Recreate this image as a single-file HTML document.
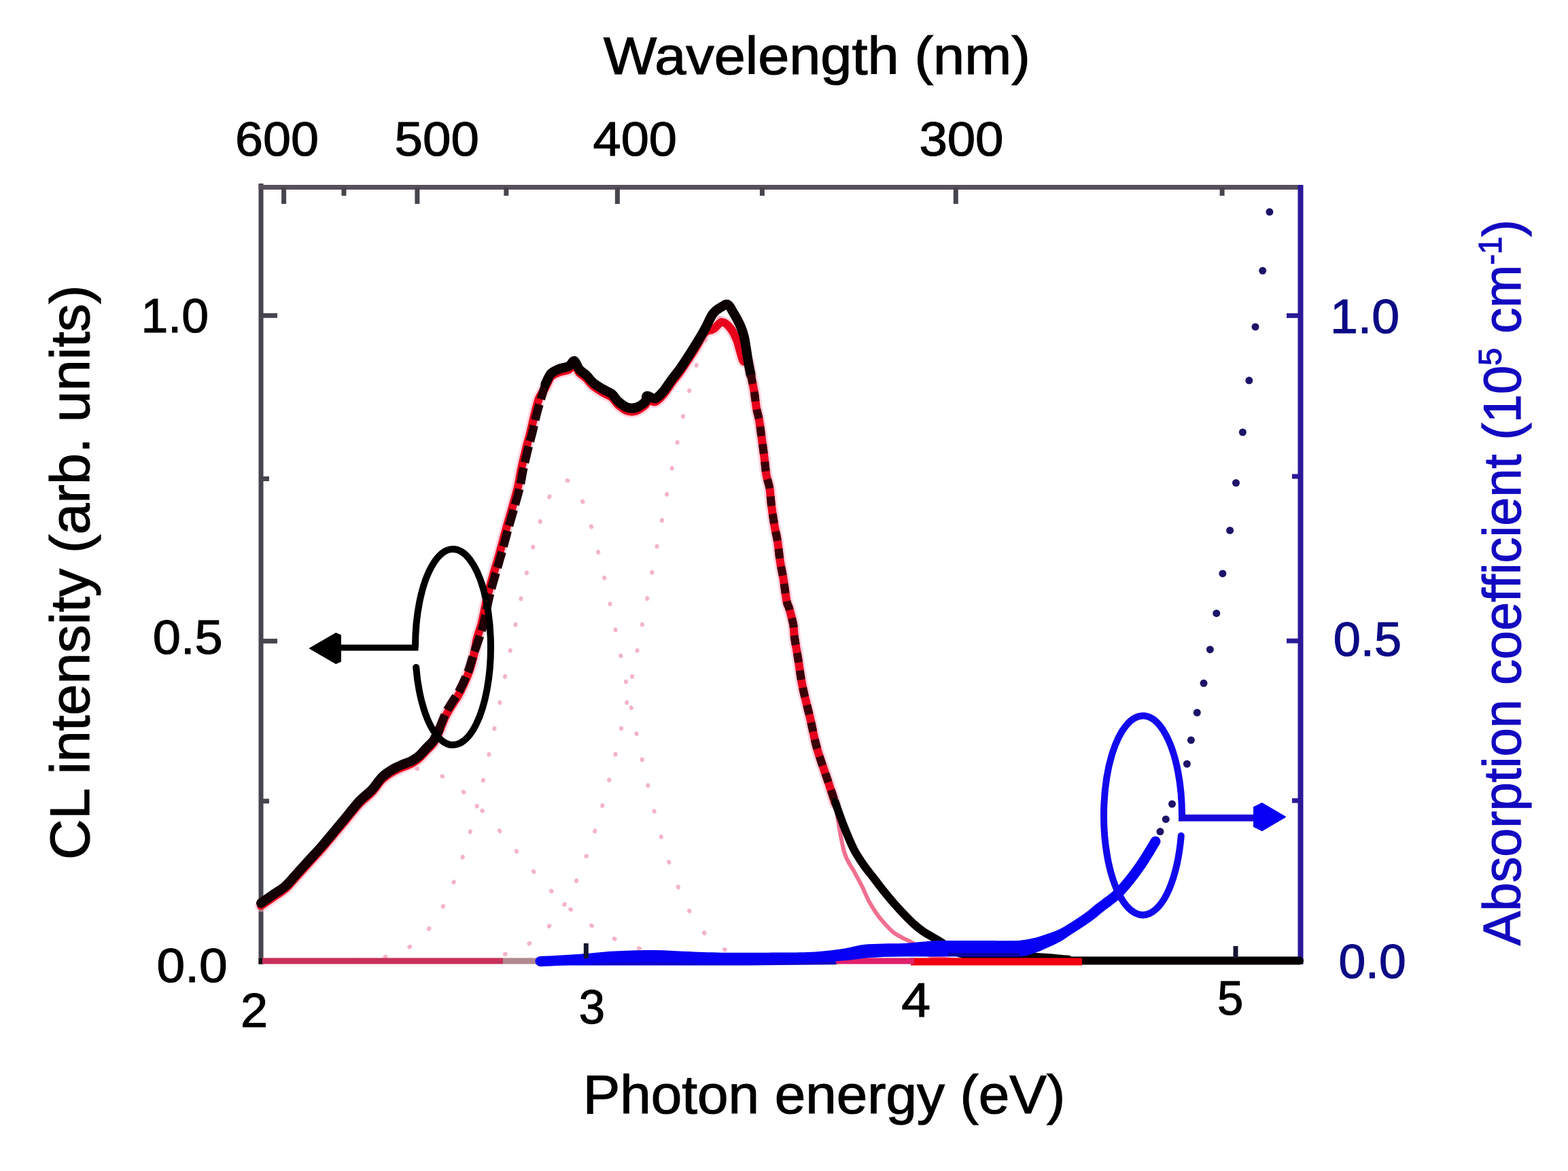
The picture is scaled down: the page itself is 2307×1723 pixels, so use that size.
<!DOCTYPE html>
<html><head><meta charset="utf-8"><title>CL intensity and absorption coefficient vs photon energy</title>
<style>
html,body{margin:0;padding:0;background:#fff;}
body{width:2307px;height:1723px;overflow:hidden;}
svg{display:block;}
</style></head>
<body>
<svg width="2307" height="1723" viewBox="0 0 2307 1723">
<rect width="2307" height="1723" fill="#fff"/>
<path d="M575.6,1139.2 L580.4,1137.0 L585.2,1135.2 L590.0,1133.7 L594.7,1132.5 L599.5,1131.7 L604.3,1131.1 L609.1,1130.9 L613.8,1131.0 L618.6,1131.4 L623.4,1132.2 L628.2,1133.2 L633.0,1134.6 L637.7,1136.3 L642.5,1138.3 L647.3,1140.6 L652.1,1143.1 L656.8,1146.0 L661.6,1149.1 L666.4,1152.5 L671.2,1156.2 L676.0,1160.1 L680.7,1164.2 L685.5,1168.5 L690.3,1173.0 L695.1,1177.7 L699.8,1182.6 L704.6,1187.7 L709.4,1192.8 L714.2,1198.1 L719.0,1203.6 L723.7,1209.1 L728.5,1214.7 L733.3,1220.4 L738.1,1226.1 L742.8,1231.9 L747.6,1237.7 L752.4,1243.5 L757.2,1249.2 L762.0,1255.0 L766.7,1260.8 L771.5,1266.5 L776.3,1272.2 L781.1,1277.8 L785.9,1283.3 L790.6,1288.7 L795.4,1294.1 L800.2,1299.4 L805.0,1304.5 L809.7,1309.6 L814.5,1314.5 L819.3,1319.3 L824.1,1323.9 L828.9,1328.5 L833.6,1332.9 L838.4,1337.1 L843.2,1341.3 L848.0,1345.2 L852.7,1349.1 L857.5,1352.8 L862.3,1356.3 L867.1,1359.7 L871.9,1363.0 L876.6,1366.1 L881.4,1369.1 L886.2,1371.9 L891.0,1374.6 L895.7,1377.2 L900.5,1379.7 L905.3,1382.0 L910.1,1384.2 L914.9,1386.3 L919.6,1388.2 L924.4,1390.1 L929.2,1391.8 L934.0,1393.5 L938.7,1395.0 L943.5,1396.4 L948.3,1397.8 L953.1,1399.1 L957.9,1400.2 L962.6,1401.3 L967.4,1402.4 L972.2,1403.3 L977.0,1404.2 L981.7,1405.1 L986.5,1405.8 L991.3,1406.5 L996.1,1407.2 L1000.9,1407.8 L1005.6,1408.3 L1010.4,1408.9 L1015.2,1409.3 L1020.0,1409.8 L1024.8,1410.2 L1029.5,1410.5 L1034.3,1410.9 L1039.1,1411.2 L1043.9,1411.4 L1048.6,1411.7 L1053.4,1411.9 L1058.2,1412.1 L1063.0,1412.3 L1067.8,1412.5 L1072.5,1412.7 L1077.3,1412.8 L1082.1,1412.9 L1086.9,1413.0 L1091.6,1413.1 L1096.4,1413.2 L1101.2,1413.3 L1106.0,1413.4 L1110.8,1413.5 L1115.5,1413.5 L1120.3,1413.6 L1125.1,1413.6 L1129.9,1413.7 L1134.6,1413.7 L1139.4,1413.7 L1144.2,1413.8 L1149.0,1413.8 L1153.8,1413.8 L1158.5,1413.8 L1163.3,1413.9 L1168.1,1413.9 L1172.9,1413.9 L1177.6,1413.9 L1182.4,1413.9 L1187.2,1413.9 L1192.0,1413.9 L1196.8,1413.9 L1201.5,1414.0 L1206.3,1414.0 L1211.1,1414.0 L1215.9,1414.0 L1220.6,1414.0 L1225.4,1414.0 L1230.2,1414.0 L1235.0,1414.0 L1239.8,1414.0 L1244.5,1414.0 L1249.3,1414.0 L1254.1,1414.0 L1258.9,1414.0 L1263.7,1414.0 L1268.4,1414.0 L1273.2,1414.0 L1278.0,1414.0 L1282.8,1414.0 L1287.5,1414.0 L1292.3,1414.0 L1297.1,1414.0 L1301.9,1414.0 L1306.7,1414.0 L1311.4,1414.0 L1316.2,1414.0 L1321.0,1414.0 L1325.8,1414.0 L1330.5,1414.0 L1335.3,1414.0 L1340.1,1414.0" fill="none" stroke="#f4b4c8" stroke-width="6" stroke-dasharray="1 38" stroke-linecap="round"/>
<path d="M527.8,1412.6 L532.6,1412.3 L537.4,1411.9 L542.2,1411.5 L547.0,1411.0 L551.7,1410.4 L556.5,1409.7 L561.3,1408.9 L566.1,1407.9 L570.8,1406.8 L575.6,1405.5 L580.4,1403.9 L585.2,1402.2 L590.0,1400.2 L594.7,1397.9 L599.5,1395.2 L604.3,1392.2 L609.1,1388.8 L613.8,1385.0 L618.6,1380.7 L623.4,1375.8 L628.2,1370.4 L633.0,1364.4 L637.7,1357.7 L642.5,1350.3 L647.3,1342.1 L652.1,1333.2 L656.8,1323.4 L661.6,1312.8 L666.4,1301.2 L671.2,1288.8 L676.0,1275.3 L680.7,1260.9 L685.5,1245.6 L690.3,1229.2 L695.1,1211.9 L699.8,1193.7 L704.6,1174.5 L709.4,1154.5 L714.2,1133.7 L719.0,1112.2 L723.7,1090.0 L728.5,1067.2 L733.3,1044.0 L738.1,1020.4 L742.8,996.6 L747.6,972.8 L752.4,949.0 L757.2,925.5 L762.0,902.4 L766.7,879.8 L771.5,857.9 L776.3,836.9 L781.1,817.0 L785.9,798.3 L790.6,780.9 L795.4,765.1 L800.2,750.9 L805.0,738.5 L809.7,728.0 L814.5,719.5 L819.3,713.0 L824.1,708.7 L828.9,706.5 L833.6,706.5 L838.4,708.7 L843.2,713.0 L848.0,719.5 L852.7,728.0 L857.5,738.5 L862.3,750.9 L867.1,765.1 L871.9,780.9 L876.6,798.3 L881.4,817.0 L886.2,836.9 L891.0,857.9 L895.7,879.8 L900.5,902.4 L905.3,925.5 L910.1,949.0 L914.9,972.8 L919.6,996.6 L924.4,1020.4 L929.2,1044.0 L934.0,1067.2 L938.7,1090.0 L943.5,1112.2 L948.3,1133.7 L953.1,1154.5 L957.9,1174.5 L962.6,1193.7 L967.4,1211.9 L972.2,1229.2 L977.0,1245.6 L981.7,1260.9 L986.5,1275.3 L991.3,1288.8 L996.1,1301.2 L1000.9,1312.8 L1005.6,1323.4 L1010.4,1333.2 L1015.2,1342.1 L1020.0,1350.3 L1024.8,1357.7 L1029.5,1364.4 L1034.3,1370.4 L1039.1,1375.8 L1043.9,1380.7 L1048.6,1385.0 L1053.4,1388.8 L1058.2,1392.2 L1063.0,1395.2 L1067.8,1397.9 L1072.5,1400.2 L1077.3,1402.2 L1082.1,1403.9 L1086.9,1405.5 L1091.6,1406.8 L1096.4,1407.9 L1101.2,1408.9 L1106.0,1409.7 L1110.8,1410.4 L1115.5,1411.0 L1120.3,1411.5 L1125.1,1411.9 L1129.9,1412.3 L1134.6,1412.6 L1139.4,1412.8 L1144.2,1413.1 L1149.0,1413.2 L1153.8,1413.4 L1158.5,1413.5 L1163.3,1413.6 L1168.1,1413.7 L1172.9,1413.7 L1177.6,1413.8 L1182.4,1413.8 L1187.2,1413.9 L1192.0,1413.9 L1196.8,1413.9 L1201.5,1413.9 L1206.3,1413.9 L1211.1,1414.0 L1215.9,1414.0 L1220.6,1414.0" fill="none" stroke="#f4b4c8" stroke-width="6" stroke-dasharray="1 38" stroke-linecap="round"/>
<path d="M742.9,1404.1 L747.6,1402.7 L752.4,1401.1 L757.2,1399.4 L762.0,1397.4 L766.7,1395.2 L771.5,1392.7 L776.3,1389.9 L781.1,1386.9 L785.9,1383.5 L790.6,1379.7 L795.4,1375.6 L800.2,1371.1 L805.0,1366.1 L809.7,1360.7 L814.5,1354.7 L819.3,1348.3 L824.1,1341.2 L828.9,1333.6 L833.6,1325.3 L838.4,1316.4 L843.2,1306.8 L848.0,1296.5 L852.7,1285.4 L857.5,1273.6 L862.3,1261.0 L867.1,1247.6 L871.9,1233.4 L876.6,1218.4 L881.4,1202.5 L886.2,1185.8 L891.0,1168.2 L895.7,1149.9 L900.5,1130.7 L905.3,1110.7 L910.1,1089.9 L914.9,1068.5 L919.6,1046.3 L924.4,1023.4 L929.2,1000.0 L934.0,976.0 L938.7,951.6 L943.5,926.7 L948.3,901.6 L953.1,876.2 L957.9,850.6 L962.6,825.0 L967.4,799.4 L972.2,774.0 L977.0,748.9 L981.7,724.2 L986.5,699.9 L991.3,676.2 L996.1,653.3 L1000.9,631.2 L1005.6,610.0 L1010.4,589.9 L1015.2,571.0 L1020.0,553.3 L1024.8,537.0 L1029.5,522.2 L1034.3,508.9 L1039.1,497.2 L1043.9,487.2 L1048.6,478.9 L1053.4,472.4 L1058.2,467.7 L1063.0,464.9 L1067.8,464.0" fill="none" stroke="#f4b4c8" stroke-width="6" stroke-dasharray="1 38" stroke-linecap="round"/>
<line x1="384" y1="270" x2="384" y2="1419" stroke="#47444d" stroke-width="7"/>
<line x1="380.5" y1="275.5" x2="1916" y2="275.5" stroke="#55505a" stroke-width="7"/>
<line x1="1913.5" y1="272" x2="1913.5" y2="1419" stroke="#2a1a98" stroke-width="8"/>
<line x1="380.5" y1="1414" x2="1917" y2="1414" stroke="#111" stroke-width="8"/>
<line x1="417.6" y1="276.0" x2="417.6" y2="300.0" stroke="#47444d" stroke-width="7"/>
<line x1="506.0" y1="276.0" x2="506.0" y2="288.0" stroke="#47444d" stroke-width="7"/>
<line x1="613.9" y1="276.0" x2="613.9" y2="300.0" stroke="#47444d" stroke-width="7"/>
<line x1="744.8" y1="276.0" x2="744.8" y2="288.0" stroke="#47444d" stroke-width="7"/>
<line x1="908.4" y1="276.0" x2="908.4" y2="300.0" stroke="#47444d" stroke-width="7"/>
<line x1="1121.4" y1="276.0" x2="1121.4" y2="288.0" stroke="#47444d" stroke-width="7"/>
<line x1="1406.3" y1="276.0" x2="1406.3" y2="300.0" stroke="#47444d" stroke-width="7"/>
<line x1="1798.1" y1="276.0" x2="1798.1" y2="288.0" stroke="#47444d" stroke-width="7"/>
<line x1="384.0" y1="464.3" x2="408.0" y2="464.3" stroke="#47444d" stroke-width="7"/>
<line x1="384.0" y1="704.5" x2="396.0" y2="704.5" stroke="#47444d" stroke-width="7"/>
<line x1="384.0" y1="943.3" x2="408.0" y2="943.3" stroke="#47444d" stroke-width="7"/>
<line x1="384.0" y1="1178.8" x2="396.0" y2="1178.8" stroke="#47444d" stroke-width="7"/>
<line x1="1913.0" y1="464.4" x2="1893.0" y2="464.4" stroke="#2a1a98" stroke-width="7"/>
<line x1="1913.0" y1="701.0" x2="1901.0" y2="701.0" stroke="#2a1a98" stroke-width="7"/>
<line x1="1913.0" y1="943.0" x2="1893.0" y2="943.0" stroke="#2a1a98" stroke-width="7"/>
<line x1="1913.0" y1="1178.0" x2="1901.0" y2="1178.0" stroke="#2a1a98" stroke-width="7"/>
<line x1="386" y1="1414" x2="740" y2="1414" stroke="#c8305a" stroke-width="9"/>
<line x1="740" y1="1414" x2="800" y2="1414" stroke="#b08890" stroke-width="9"/>
<path d="M384.0,1332.8 C387.0,1330.7 396.1,1324.3 402.2,1320.1 C408.2,1315.9 414.2,1312.9 420.3,1307.4 C426.4,1302.0 432.4,1294.1 438.5,1287.4 C444.6,1280.8 450.6,1274.2 456.6,1267.5 C462.7,1260.8 468.7,1254.5 474.8,1247.5 C480.9,1240.5 486.9,1233.0 493.0,1225.7 C499.1,1218.4 505.1,1211.2 511.1,1203.9 C517.1,1196.6 523.3,1188.5 529.3,1182.1 C535.3,1175.7 541.9,1171.5 547.3,1165.7 C552.7,1160.0 557.0,1152.4 561.8,1147.6 C566.6,1142.8 571.4,1139.7 576.3,1136.7 C581.1,1133.7 586.0,1131.6 590.9,1129.4 C595.8,1127.2 601.2,1125.8 605.4,1123.6 C609.6,1121.4 612.7,1119.4 616.3,1116.3 C619.9,1113.2 623.6,1108.6 627.2,1104.7 C630.8,1100.8 635.1,1097.5 638.1,1093.1 C641.1,1088.7 642.4,1085.2 645.4,1078.5 C648.4,1071.8 652.6,1060.1 656.0,1053.0 C659.4,1045.9 662.8,1041.2 666.0,1036.0 C669.2,1030.8 671.3,1029.0 675.0,1022.0 C678.7,1015.0 684.5,1002.8 688.0,994.0 C691.5,985.2 693.7,978.2 696.0,969.0 C698.3,959.8 699.9,947.5 702.0,939.0 C704.1,930.5 706.7,925.0 708.5,918.0 C710.3,911.0 711.6,903.7 713.0,897.0 C714.4,890.3 715.3,884.9 717.0,878.0 C718.7,871.1 720.0,866.1 723.0,855.4 C726.0,844.7 731.4,826.9 735.0,814.0 C738.6,801.1 741.5,789.6 744.8,777.9 C748.0,766.2 751.7,754.1 754.5,744.0 C757.3,733.9 759.6,726.4 761.7,717.4 C763.8,708.4 765.0,699.6 767.0,690.0 C769.0,680.4 771.8,669.1 774.0,660.0 C776.2,650.9 778.4,644.2 780.5,635.6 C782.6,627.0 784.7,616.8 786.8,608.5 C788.9,600.2 790.6,592.3 793.2,585.9 C795.8,579.5 799.6,575.3 802.5,570.1 C805.4,564.9 807.1,558.5 810.6,554.7 C814.1,550.9 818.9,549.3 823.3,547.5 C827.7,545.7 833.3,545.8 836.9,543.9 C840.5,542.0 842.5,535.2 845.0,536.0 C847.5,536.8 849.3,545.0 852.2,548.4 C855.1,551.8 858.7,553.2 862.2,556.5 C865.7,559.8 868.9,564.8 873.0,568.3 C877.1,571.8 882.1,574.6 886.6,577.3 C891.1,580.0 896.3,581.6 900.1,584.6 C903.9,587.6 905.4,592.1 909.2,595.4 C913.0,598.7 918.2,603.0 922.7,604.5 C927.2,606.0 931.8,606.0 936.3,604.5 C940.8,603.0 947.3,598.2 949.9,595.4 C952.5,592.6 949.7,588.2 952.1,587.5 C954.5,586.8 960.2,592.4 964.2,591.2 C968.2,590.0 972.3,584.9 976.3,580.3 C980.3,575.6 984.4,568.8 988.4,563.3 C992.4,557.8 996.5,553.2 1000.5,547.6 C1004.5,542.0 1008.6,535.6 1012.6,529.4 C1016.6,523.1 1020.7,516.8 1024.7,510.1 C1028.8,503.5 1032.7,493.9 1036.9,489.5 C1041.1,485.1 1045.8,486.6 1050.0,484.0 C1054.2,481.4 1058.0,474.3 1062.0,474.0 C1066.0,473.7 1070.3,477.7 1074.0,482.0 C1077.7,486.3 1080.8,492.0 1084.0,500.0 C1087.2,508.0 1090.2,524.5 1093.0,530.0 C1095.8,535.5 1099.1,529.4 1101.0,532.9 C1102.9,536.4 1103.2,544.0 1104.6,551.1 C1106.0,558.2 1108.1,567.1 1109.5,575.3 C1110.9,583.4 1111.7,593.0 1112.9,600.0 C1114.1,607.0 1115.5,610.0 1116.8,617.4 C1118.1,624.8 1119.4,635.2 1120.7,644.6 C1122.0,654.0 1123.5,664.6 1124.6,673.6 C1125.7,682.6 1126.2,691.4 1127.5,698.8 C1128.8,706.2 1131.0,710.5 1132.3,718.2 C1133.6,726.0 1133.9,735.6 1135.2,745.3 C1136.5,755.0 1138.5,767.9 1140.0,776.3 C1141.5,784.7 1142.6,787.4 1143.9,795.6 C1145.2,803.8 1146.3,816.3 1147.8,825.7 C1149.2,835.1 1151.0,842.0 1152.6,851.8 C1154.2,861.6 1156.0,877.4 1157.5,884.7 C1159.0,892.0 1159.7,889.8 1161.3,895.5 C1162.9,901.2 1165.8,911.6 1167.1,918.7 C1168.4,925.8 1167.9,930.0 1169.0,938.1 C1170.1,946.2 1172.0,955.2 1173.9,967.2 C1175.9,979.2 1177.6,994.6 1180.7,1009.8 C1183.8,1025.0 1188.8,1043.0 1192.3,1058.2 C1195.8,1073.4 1197.8,1086.0 1202.0,1100.8 C1206.2,1115.6 1213.0,1133.8 1217.5,1147.3 C1222.0,1160.8 1226.8,1176.2 1228.7,1182.0" fill="none" stroke="#ffb0c4" stroke-width="18" stroke-linejoin="round" stroke-linecap="round" opacity="0.55"/>
<path d="M384.0,1332.8 C387.0,1330.7 396.1,1324.3 402.2,1320.1 C408.2,1315.9 414.2,1312.9 420.3,1307.4 C426.4,1302.0 432.4,1294.1 438.5,1287.4 C444.6,1280.8 450.6,1274.2 456.6,1267.5 C462.7,1260.8 468.7,1254.5 474.8,1247.5 C480.9,1240.5 486.9,1233.0 493.0,1225.7 C499.1,1218.4 505.1,1211.2 511.1,1203.9 C517.1,1196.6 523.3,1188.5 529.3,1182.1 C535.3,1175.7 541.9,1171.5 547.3,1165.7 C552.7,1160.0 557.0,1152.4 561.8,1147.6 C566.6,1142.8 571.4,1139.7 576.3,1136.7 C581.1,1133.7 586.0,1131.6 590.9,1129.4 C595.8,1127.2 601.2,1125.8 605.4,1123.6 C609.6,1121.4 612.7,1119.4 616.3,1116.3 C619.9,1113.2 623.6,1108.6 627.2,1104.7 C630.8,1100.8 635.1,1097.5 638.1,1093.1 C641.1,1088.7 642.4,1085.2 645.4,1078.5 C648.4,1071.8 652.6,1060.1 656.0,1053.0 C659.4,1045.9 662.8,1041.2 666.0,1036.0 C669.2,1030.8 671.3,1029.0 675.0,1022.0 C678.7,1015.0 684.5,1002.8 688.0,994.0 C691.5,985.2 693.7,978.2 696.0,969.0 C698.3,959.8 699.9,947.5 702.0,939.0 C704.1,930.5 706.7,925.0 708.5,918.0 C710.3,911.0 711.6,903.7 713.0,897.0 C714.4,890.3 715.3,884.9 717.0,878.0 C718.7,871.1 720.0,866.1 723.0,855.4 C726.0,844.7 731.4,826.9 735.0,814.0 C738.6,801.1 741.5,789.6 744.8,777.9 C748.0,766.2 751.7,754.1 754.5,744.0 C757.3,733.9 759.6,726.4 761.7,717.4 C763.8,708.4 765.0,699.6 767.0,690.0 C769.0,680.4 771.8,669.1 774.0,660.0 C776.2,650.9 778.4,644.2 780.5,635.6 C782.6,627.0 784.7,616.8 786.8,608.5 C788.9,600.2 790.6,592.3 793.2,585.9 C795.8,579.5 799.6,575.3 802.5,570.1 C805.4,564.9 807.1,558.5 810.6,554.7 C814.1,550.9 818.9,549.3 823.3,547.5 C827.7,545.7 833.3,545.8 836.9,543.9 C840.5,542.0 842.5,535.2 845.0,536.0 C847.5,536.8 849.3,545.0 852.2,548.4 C855.1,551.8 858.7,553.2 862.2,556.5 C865.7,559.8 868.9,564.8 873.0,568.3 C877.1,571.8 882.1,574.6 886.6,577.3 C891.1,580.0 896.3,581.6 900.1,584.6 C903.9,587.6 905.4,592.1 909.2,595.4 C913.0,598.7 918.2,603.0 922.7,604.5 C927.2,606.0 931.8,606.0 936.3,604.5 C940.8,603.0 947.3,598.2 949.9,595.4 C952.5,592.6 949.7,588.2 952.1,587.5 C954.5,586.8 960.2,592.4 964.2,591.2 C968.2,590.0 972.3,584.9 976.3,580.3 C980.3,575.6 984.4,568.8 988.4,563.3 C992.4,557.8 996.5,553.2 1000.5,547.6 C1004.5,542.0 1008.6,535.6 1012.6,529.4 C1016.6,523.1 1020.7,516.8 1024.7,510.1 C1028.8,503.5 1032.7,493.9 1036.9,489.5 C1041.1,485.1 1045.8,486.6 1050.0,484.0 C1054.2,481.4 1058.0,474.3 1062.0,474.0 C1066.0,473.7 1070.3,477.7 1074.0,482.0 C1077.7,486.3 1080.8,492.0 1084.0,500.0 C1087.2,508.0 1090.2,524.5 1093.0,530.0 C1095.8,535.5 1099.1,529.4 1101.0,532.9 C1102.9,536.4 1103.2,544.0 1104.6,551.1 C1106.0,558.2 1108.1,567.1 1109.5,575.3 C1110.9,583.4 1111.7,593.0 1112.9,600.0 C1114.1,607.0 1115.5,610.0 1116.8,617.4 C1118.1,624.8 1119.4,635.2 1120.7,644.6 C1122.0,654.0 1123.5,664.6 1124.6,673.6 C1125.7,682.6 1126.2,691.4 1127.5,698.8 C1128.8,706.2 1131.0,710.5 1132.3,718.2 C1133.6,726.0 1133.9,735.6 1135.2,745.3 C1136.5,755.0 1138.5,767.9 1140.0,776.3 C1141.5,784.7 1142.6,787.4 1143.9,795.6 C1145.2,803.8 1146.3,816.3 1147.8,825.7 C1149.2,835.1 1151.0,842.0 1152.6,851.8 C1154.2,861.6 1156.0,877.4 1157.5,884.7 C1159.0,892.0 1159.7,889.8 1161.3,895.5 C1162.9,901.2 1165.8,911.6 1167.1,918.7 C1168.4,925.8 1167.9,930.0 1169.0,938.1 C1170.1,946.2 1172.0,955.2 1173.9,967.2 C1175.9,979.2 1177.6,994.6 1180.7,1009.8 C1183.8,1025.0 1188.8,1043.0 1192.3,1058.2 C1195.8,1073.4 1197.8,1086.0 1202.0,1100.8 C1206.2,1115.6 1213.0,1133.8 1217.5,1147.3 C1222.0,1160.8 1226.8,1176.2 1228.7,1182.0" fill="none" stroke="#e8001c" stroke-width="12" stroke-linejoin="round" stroke-linecap="round"/>
<path d="M1228.7,1182.0 C1230.9,1193.8 1237.2,1236.0 1241.8,1252.6 C1246.4,1269.2 1251.9,1273.2 1256.3,1281.7 C1260.7,1290.2 1264.4,1296.2 1268.0,1303.5 C1271.6,1310.8 1274.5,1318.5 1278.1,1325.3 C1281.7,1332.1 1285.8,1338.6 1289.7,1344.2 C1293.6,1349.8 1297.3,1354.1 1301.4,1358.7 C1305.5,1363.3 1309.8,1368.2 1314.4,1371.8 C1319.0,1375.4 1324.2,1377.8 1329.0,1380.5 C1333.8,1383.2 1337.5,1383.9 1343.5,1388.0 C1349.5,1392.1 1355.6,1401.0 1365.0,1405.0 C1374.4,1409.0 1385.8,1410.7 1400.0,1412.0 C1414.2,1413.3 1418.0,1412.8 1450.0,1413.0 C1482.0,1413.2 1568.3,1413.0 1592.0,1413.0" fill="none" stroke="#f07090" stroke-width="6" stroke-linejoin="round" stroke-linecap="round"/>
<path d="M384.0,1328.8 C387.0,1326.7 396.1,1320.3 402.2,1316.1 C408.2,1311.9 414.2,1308.9 420.3,1303.4 C426.4,1298.0 432.4,1290.1 438.5,1283.4 C444.6,1276.8 450.6,1270.2 456.6,1263.5 C462.7,1256.8 468.7,1250.5 474.8,1243.5 C480.9,1236.5 486.9,1229.0 493.0,1221.7 C499.1,1214.4 505.1,1207.2 511.1,1199.9 C517.1,1192.6 523.3,1184.5 529.3,1178.1 C535.3,1171.7 541.9,1167.5 547.3,1161.7 C552.7,1156.0 557.0,1148.4 561.8,1143.6 C566.6,1138.8 571.4,1135.7 576.3,1132.7 C581.1,1129.7 586.0,1127.6 590.9,1125.4 C595.8,1123.2 601.2,1121.8 605.4,1119.6 C609.6,1117.4 612.7,1115.4 616.3,1112.3 C619.9,1109.2 623.6,1104.6 627.2,1100.7 C630.8,1096.8 635.1,1093.5 638.1,1089.1 C641.1,1084.7 644.2,1076.9 645.4,1074.5" fill="none" stroke="#120004" stroke-width="14" stroke-linejoin="round" stroke-linecap="round"/>
<path d="M645.4,1074.5 C647.2,1070.2 652.6,1056.1 656.0,1049.0 C659.4,1041.9 662.8,1037.2 666.0,1032.0 C669.2,1026.8 671.3,1025.0 675.0,1018.0 C678.7,1011.0 684.5,998.8 688.0,990.0 C691.5,981.2 693.2,973.5 696.0,965.0 C698.8,956.5 702.4,946.8 705.0,939.0 C707.6,931.2 709.7,925.0 711.5,918.0 C713.3,911.0 714.6,903.7 716.0,897.0 C717.4,890.3 718.3,884.9 720.0,878.0 C721.7,871.1 723.0,866.1 726.0,855.4 C729.0,844.7 734.4,826.9 738.0,814.0 C741.6,801.1 744.5,789.6 747.8,777.9 C751.0,766.2 754.7,754.1 757.5,744.0 C760.3,733.9 762.6,726.4 764.7,717.4 C766.8,708.4 768.0,699.6 770.0,690.0 C772.0,680.4 774.8,669.1 777.0,660.0 C779.2,650.9 781.4,644.2 783.5,635.6 C785.6,627.0 787.7,616.8 789.8,608.5 C791.9,600.2 794.1,593.1 796.2,585.9 C798.3,578.7 801.5,568.6 802.5,565.1" fill="none" stroke="#200006" stroke-width="12.5" stroke-dasharray="24 8" stroke-linecap="butt"/>
<path d="M802.5,565.1 C803.9,562.5 807.1,553.5 810.6,549.7 C814.1,545.9 818.9,544.3 823.3,542.5 C827.7,540.7 833.3,540.8 836.9,538.9 C840.5,537.0 842.5,530.2 845.0,531.0 C847.5,531.8 849.3,540.0 852.2,543.4 C855.1,546.8 858.7,548.2 862.2,551.5 C865.7,554.8 868.9,559.8 873.0,563.3 C877.1,566.8 882.1,569.6 886.6,572.3 C891.1,575.0 896.3,576.6 900.1,579.6 C903.9,582.6 905.4,587.1 909.2,590.4 C913.0,593.7 918.2,598.0 922.7,599.5 C927.2,601.0 931.8,601.0 936.3,599.5 C940.8,598.0 947.3,593.2 949.9,590.4 C952.5,587.6 949.7,583.2 952.1,582.5 C954.5,581.8 960.2,587.4 964.2,586.2 C968.2,585.0 972.3,579.9 976.3,575.3 C980.3,570.6 984.4,563.8 988.4,558.3 C992.4,552.8 996.5,548.2 1000.5,542.6 C1004.5,537.0 1008.6,530.6 1012.6,524.4 C1016.6,518.1 1020.7,511.8 1024.7,505.1 C1028.8,498.5 1032.9,491.8 1036.9,484.5 C1041.0,477.2 1045.0,466.9 1049.0,461.5 C1053.0,456.1 1057.5,454.0 1061.1,451.8 C1064.7,449.6 1067.8,446.8 1070.8,448.2 C1073.8,449.6 1076.2,455.3 1079.2,460.3 C1082.2,465.3 1086.3,472.3 1088.9,478.4 C1091.5,484.4 1093.0,487.5 1095.0,496.6 C1097.0,505.7 1099.4,523.8 1101.0,532.9 C1102.6,542.0 1104.0,548.1 1104.6,551.1" fill="none" stroke="#0a0000" stroke-width="14" stroke-linejoin="round" stroke-linecap="round"/>
<path d="M1104.6,551.1 C1105.4,555.1 1108.1,567.1 1109.5,575.3 C1110.9,583.4 1111.7,593.0 1112.9,600.0 C1114.1,607.0 1115.5,610.0 1116.8,617.4 C1118.1,624.8 1119.4,635.2 1120.7,644.6 C1122.0,654.0 1123.5,664.6 1124.6,673.6 C1125.7,682.6 1126.2,691.4 1127.5,698.8 C1128.8,706.2 1131.0,710.5 1132.3,718.2 C1133.6,726.0 1133.9,735.6 1135.2,745.3 C1136.5,755.0 1138.5,767.9 1140.0,776.3 C1141.5,784.7 1142.6,787.4 1143.9,795.6 C1145.2,803.8 1146.3,816.3 1147.8,825.7 C1149.2,835.1 1151.0,842.0 1152.6,851.8 C1154.2,861.6 1156.0,877.4 1157.5,884.7 C1159.0,892.0 1159.7,889.8 1161.3,895.5 C1162.9,901.2 1165.8,911.6 1167.1,918.7 C1168.4,925.8 1167.9,930.0 1169.0,938.1 C1170.1,946.2 1172.0,955.2 1173.9,967.2 C1175.9,979.2 1177.6,994.6 1180.7,1009.8 C1183.8,1025.0 1188.8,1043.0 1192.3,1058.2 C1195.8,1073.4 1197.8,1086.0 1202.0,1100.8 C1206.2,1115.6 1213.0,1134.1 1217.5,1147.3 C1222.0,1160.5 1226.8,1174.5 1228.7,1180.0" fill="none" stroke="#3a0008" stroke-width="12" stroke-dasharray="14 12" stroke-linecap="butt"/>
<path d="M1228.7,1180.0 C1230.9,1186.0 1237.2,1204.7 1241.8,1216.3 C1246.4,1227.9 1251.4,1240.2 1256.3,1249.7 C1261.2,1259.2 1266.1,1266.0 1270.9,1273.0 C1275.8,1280.0 1280.6,1285.6 1285.4,1291.9 C1290.2,1298.2 1295.1,1304.8 1299.9,1310.8 C1304.7,1316.8 1309.6,1322.6 1314.4,1328.2 C1319.2,1333.8 1324.2,1339.1 1329.0,1344.2 C1333.8,1349.3 1338.7,1354.4 1343.5,1358.7 C1348.3,1363.0 1353.2,1366.9 1358.0,1370.3 C1362.8,1373.7 1367.7,1376.0 1372.5,1379.0 C1377.3,1382.0 1382.5,1384.8 1387.1,1388.0 C1391.7,1391.2 1394.5,1395.2 1400.0,1398.0 C1405.5,1400.8 1411.7,1403.1 1420.0,1404.5 C1428.3,1405.9 1436.7,1406.1 1450.0,1406.5 C1463.3,1406.9 1485.0,1406.6 1500.0,1407.0 C1515.0,1407.4 1528.3,1408.2 1540.0,1409.0 C1551.7,1409.8 1560.0,1410.8 1570.0,1411.5 C1580.0,1412.2 1543.0,1413.2 1600.0,1413.5 C1657.0,1413.8 1860.0,1413.5 1912.0,1413.5" fill="none" stroke="#050000" stroke-width="12" stroke-linejoin="round" stroke-linecap="round"/>
<line x1="1340" y1="1415" x2="1592" y2="1415" stroke="#f00010" stroke-width="11"/>
<path d="M795.0,1409.0 C798.8,1408.8 807.0,1408.5 818.0,1407.5 C829.0,1406.5 846.5,1404.6 861.0,1403.3 C875.5,1402.0 888.2,1400.4 905.0,1399.5 C921.8,1398.6 942.8,1397.8 962.0,1398.0 C981.2,1398.2 1000.7,1399.8 1020.0,1400.4 C1039.3,1401.0 1056.3,1401.6 1078.0,1401.8 C1099.7,1402.0 1129.7,1401.7 1150.0,1401.5 C1170.3,1401.3 1185.0,1401.3 1200.0,1400.4 C1215.0,1399.5 1228.3,1397.7 1240.0,1396.0 C1251.7,1394.3 1260.0,1391.2 1270.0,1390.0 C1280.0,1388.8 1290.0,1388.8 1300.0,1388.5 C1310.0,1388.2 1320.0,1388.5 1330.0,1388.0 C1340.0,1387.5 1351.0,1386.2 1360.0,1385.5 C1369.0,1384.8 1369.0,1384.2 1384.0,1384.0 C1399.0,1383.8 1430.7,1383.9 1450.0,1384.0 C1469.3,1384.1 1491.7,1384.4 1500.0,1384.5 L1505.0,1383.8 L1510.0,1383.1 L1515.0,1382.1 L1520.0,1381.0 L1525.0,1379.8 L1530.0,1378.5 L1535.0,1376.9 L1540.0,1375.3 L1545.0,1373.5 L1550.0,1371.7 L1555.0,1369.9 L1560.0,1367.7 L1565.0,1365.3 L1570.0,1362.4 L1575.0,1359.4 L1580.0,1356.3 L1585.0,1353.1 L1590.0,1349.8 L1595.0,1346.4 L1600.0,1342.9 L1605.0,1339.3 L1610.0,1335.2 L1610.0,1348.4 L1605.0,1352.5 L1600.0,1356.1 L1595.0,1360.2 L1590.0,1364.1 L1585.0,1368.0 L1580.0,1371.7 L1575.0,1375.4 L1570.0,1379.0 L1565.0,1382.4 L1560.0,1385.4 L1555.0,1388.1 L1550.0,1390.5 L1545.0,1392.8 L1540.0,1395.1 L1535.0,1397.3 L1530.0,1399.4 L1525.0,1401.3 L1520.0,1403.1 L1515.0,1404.8 L1510.0,1406.3 L1505.0,1407.0 L1500.0,1407.5 L1450.0,1407.5 L1384.0,1407.5 L1330.0,1407.5 L1300.0,1408.0 L1270.0,1410.0 L1250.0,1414.0 L1230.0,1419.0 L1100.0,1420.5 L795.0,1420.5 Z" fill="#0800f0"/>
<line x1="1230" y1="1414" x2="1345" y2="1414" stroke="#e0206a" stroke-width="9"/>
<line x1="830" y1="1416.5" x2="1230" y2="1416.5" stroke="#1a0890" stroke-width="6" opacity="0.5"/>
<line x1="1395" y1="1404.5" x2="1500" y2="1404.5" stroke="#10085a" stroke-width="4" opacity="0.6"/>
<path d="M795.0,1414.5 C798.8,1414.3 807.0,1414.1 818.0,1413.5 C829.0,1412.9 846.5,1411.8 861.0,1411.0 C875.5,1410.2 888.2,1409.4 905.0,1409.0 C921.8,1408.6 942.8,1408.3 962.0,1408.5 C981.2,1408.7 1000.7,1409.6 1020.0,1410.0 C1039.3,1410.4 1056.3,1410.9 1078.0,1411.0 C1099.7,1411.1 1129.7,1410.8 1150.0,1410.5 C1170.3,1410.2 1183.3,1409.9 1200.0,1409.0 C1216.7,1408.1 1236.7,1406.3 1250.0,1405.0 C1263.3,1403.7 1271.7,1401.9 1280.0,1401.0 C1288.3,1400.1 1290.0,1400.2 1300.0,1399.5 C1310.0,1398.8 1326.7,1398.0 1340.0,1397.0 C1353.3,1396.0 1366.7,1394.2 1380.0,1393.5 C1393.3,1392.8 1406.7,1392.7 1420.0,1392.5 C1433.3,1392.3 1446.7,1392.7 1460.0,1392.5 C1473.3,1392.3 1489.2,1392.4 1500.0,1391.5 C1510.8,1390.6 1517.2,1388.9 1525.0,1387.0 C1532.8,1385.1 1540.8,1382.2 1547.0,1380.0 C1553.2,1377.8 1557.2,1376.3 1562.0,1374.0 C1566.8,1371.7 1571.3,1368.8 1576.0,1366.0 C1580.7,1363.2 1585.2,1360.2 1590.0,1357.0 C1594.8,1353.8 1600.5,1349.9 1605.0,1346.5 C1609.5,1343.1 1612.7,1339.9 1617.0,1336.5 C1621.3,1333.1 1626.4,1329.6 1631.0,1326.0 C1635.6,1322.4 1639.3,1320.2 1644.5,1315.0 C1649.7,1309.8 1656.2,1302.2 1662.0,1295.0 C1667.8,1287.8 1674.2,1279.0 1679.0,1272.0 C1683.8,1265.0 1687.5,1258.7 1691.0,1253.0 C1694.5,1247.3 1698.5,1240.5 1700.0,1238.0" fill="none" stroke="#0800f4" stroke-width="15" stroke-linejoin="round" stroke-linecap="round"/>
<circle cx="1707.0" cy="1223.6" r="5.5" fill="#1c1468"/>
<circle cx="1715.3" cy="1205.4" r="5.5" fill="#1c1468"/>
<circle cx="1724.5" cy="1183.0" r="5.5" fill="#1c1468"/>
<circle cx="1746.4" cy="1124.0" r="5.5" fill="#1c1468"/>
<circle cx="1752.4" cy="1089.1" r="5.5" fill="#1c1468"/>
<circle cx="1761.3" cy="1048.5" r="5.5" fill="#1c1468"/>
<circle cx="1771.0" cy="1005.3" r="5.5" fill="#1c1468"/>
<circle cx="1780.4" cy="955.7" r="5.5" fill="#1c1468"/>
<circle cx="1789.8" cy="902.4" r="5.5" fill="#1c1468"/>
<circle cx="1798.9" cy="843.9" r="5.5" fill="#1c1468"/>
<circle cx="1809.6" cy="780.4" r="5.5" fill="#1c1468"/>
<circle cx="1818.5" cy="710.5" r="5.5" fill="#1c1468"/>
<circle cx="1828.4" cy="636.0" r="5.5" fill="#1c1468"/>
<circle cx="1837.8" cy="559.8" r="5.5" fill="#1c1468"/>
<circle cx="1847.0" cy="480.9" r="5.5" fill="#1c1468"/>
<circle cx="1857.7" cy="398.3" r="5.5" fill="#1c1468"/>
<circle cx="1867.9" cy="311.8" r="5.5" fill="#1c1468"/>
<line x1="862.3" y1="1410.0" x2="862.3" y2="1388.0" stroke="#151530" stroke-width="7"/>
<line x1="1818.0" y1="1410.0" x2="1818.0" y2="1392.0" stroke="#151530" stroke-width="7"/>
<path d="M611.0,950.7 A55.5,144.0 0 1,1 612.2,981.9" fill="none" stroke="#000" stroke-width="10" stroke-linecap="round"/>
<path d="M611.0,950.7 L611.0,953 L500,953" fill="none" stroke="#000" stroke-width="9" stroke-linejoin="miter"/>
<path d="M456,954 L494,932 L501,935 L501,973 L494,976 Z" fill="#000" stroke="#000" stroke-width="2" stroke-linejoin="round"/>
<path d="M1739.0,1203.1 A57.5,146.5 0 1,0 1737.8,1229.7" fill="none" stroke="#1208ec" stroke-width="10" stroke-linecap="round"/>
<path d="M1739.0,1201.1 L1739.0,1203.5 L1850,1203.5" fill="none" stroke="#1a08d8" stroke-width="10" stroke-linejoin="miter"/>
<path d="M1845,1188 L1857,1182 L1891,1202 L1857,1222 L1845,1216 Z" fill="#0800f4" stroke="#0800f4" stroke-width="2" stroke-linejoin="round"/>
<g font-family="'Liberation Sans', sans-serif">
<text x="888.1" y="108.6" font-size="78.20" fill="#000" stroke="#000" stroke-width="1.20" textLength="627.7" lengthAdjust="spacingAndGlyphs">Wavelength (nm)</text>
<text x="346.0" y="228.7" font-size="71.00" fill="#000" stroke="#000" stroke-width="1.20" textLength="122.9" lengthAdjust="spacingAndGlyphs">600</text>
<text x="580.6" y="228.7" font-size="71.00" fill="#000" stroke="#000" stroke-width="1.20" textLength="124.2" lengthAdjust="spacingAndGlyphs">500</text>
<text x="872.6" y="228.7" font-size="71.00" fill="#000" stroke="#000" stroke-width="1.20" textLength="123.4" lengthAdjust="spacingAndGlyphs">400</text>
<text x="1352.4" y="228.9" font-size="71.00" fill="#000" stroke="#000" stroke-width="1.20" textLength="124.1" lengthAdjust="spacingAndGlyphs">300</text>
<text x="207.6" y="489.0" font-size="71.00" fill="#000" stroke="#000" stroke-width="1.20" textLength="99.4" lengthAdjust="spacingAndGlyphs">1.0</text>
<text x="224.8" y="961.7" font-size="71.00" fill="#000" stroke="#000" stroke-width="1.20" textLength="102.8" lengthAdjust="spacingAndGlyphs">0.5</text>
<text x="230.6" y="1445.0" font-size="71.00" fill="#000" stroke="#000" stroke-width="1.20" textLength="104.0" lengthAdjust="spacingAndGlyphs">0.0</text>
<text x="1957.0" y="490.0" font-size="71.00" fill="#0c0a85" stroke="#0c0a85" stroke-width="1.20" textLength="102.1" lengthAdjust="spacingAndGlyphs">1.0</text>
<text x="1961.7" y="965.4" font-size="71.00" fill="#0c0a85" stroke="#0c0a85" stroke-width="1.20" textLength="100.4" lengthAdjust="spacingAndGlyphs">0.5</text>
<text x="1969.4" y="1438.7" font-size="71.00" fill="#0c0a85" stroke="#0c0a85" stroke-width="1.20" textLength="99.3" lengthAdjust="spacingAndGlyphs">0.0</text>
<text x="354.0" y="1510.7" font-size="71.00" fill="#000" stroke="#000" stroke-width="1.20" textLength="40.0" lengthAdjust="spacingAndGlyphs">2</text>
<text x="851.8" y="1506.4" font-size="71.00" fill="#000" stroke="#000" stroke-width="1.20" textLength="38.3" lengthAdjust="spacingAndGlyphs">3</text>
<text x="1326.2" y="1496.4" font-size="71.00" fill="#000" stroke="#000" stroke-width="1.20" textLength="42.8" lengthAdjust="spacingAndGlyphs">4</text>
<text x="1791.0" y="1493.2" font-size="71.00" fill="#000" stroke="#000" stroke-width="1.20" textLength="38.3" lengthAdjust="spacingAndGlyphs">5</text>
<text x="857.7" y="1638.1" font-size="79.20" fill="#000" stroke="#000" stroke-width="1.20" textLength="709.5" lengthAdjust="spacingAndGlyphs">Photon energy (eV)</text>
<text transform="translate(131.0,1265.0) rotate(-90)" font-size="81.10" fill="#000" stroke="#000" stroke-width="1.20" textLength="845.6" lengthAdjust="spacingAndGlyphs">CL intensity (arb. units)</text>
<text transform="translate(2236.7,1391.2) rotate(-90)" font-size="78.30" fill="#1208c0" stroke="#1208c0" stroke-width="1.20" textLength="1068.3" lengthAdjust="spacingAndGlyphs">Absorption coefficient (10<tspan font-size="48.5" dy="-28.2">5</tspan><tspan dy="28.2"> cm</tspan><tspan font-size="48.5" dy="-28.2">-1</tspan><tspan dy="28.2">)</tspan></text>
</g>
</svg>
</body></html>
